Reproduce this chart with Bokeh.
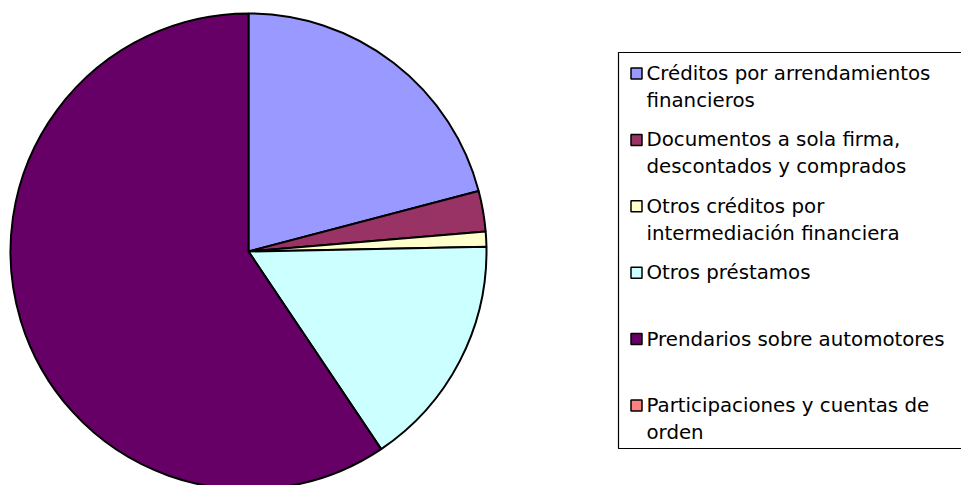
import numpy as np
from bokeh.plotting import figure
from bokeh.models import Range1d, ColumnDataSource
from bokeh.core.properties import value
from bokeh.embed import file_html
from bokeh.resources import INLINE

# ---- data ----
categories = [
    "Créditos por arrendamientos financieros",
    "Documentos a sola firma, descontados y comprados",
    "Otros créditos por intermediación financiera",
    "Otros préstamos",
    "Prendarios sobre automotores",
    "Participaciones y cuentas de orden",
]
legend_lines = [
    ["Créditos por arrendamientos", "financieros"],
    ["Documentos a sola firma,", "descontados y comprados"],
    ["Otros créditos por", "intermediación financiera"],
    ["Otros préstamos"],
    ["Prendarios sobre automotores"],
    ["Participaciones y cuentas de", "orden"],
]
shares = [20.9, 2.75, 1.03, 15.9, 59.4, 0.0]
colors = ["#9999FF", "#993366", "#FFFFCC", "#CCFFFF", "#660066", "#FF8080"]

# ---- layout ----
W, H = 961, 485
FONT = "DejaVu Sans"

def py(page_y):
    return H - page_y

def px(page_x):
    return page_x

p = figure(width=W, height=H, output_backend="svg", toolbar_location=None,
           x_range=Range1d(0, W), y_range=Range1d(0, H), min_border=0,
           tools="")
p.axis.visible = False
p.grid.visible = False
p.outline_line_color = None
p.background_fill_color = "white"
p.border_fill_color = "white"

# ---- pie ----
vals = np.array(shares, dtype=float)
frac = vals / vals.sum()
cum = np.cumsum(frac)
prev = np.concatenate([[0.0], cum[:-1]])
start = np.pi / 2 - prev * 2 * np.pi
end = np.pi / 2 - cum * 2 * np.pi
mask = vals > 0
src = ColumnDataSource(dict(
    start=start[mask], end=end[mask],
    color=[c for c, m in zip(colors, mask) if m],
))
cx, cy, r = px(248), py(251), 238
p.wedge(x=cx, y=cy, radius=r, start_angle="start", end_angle="end",
        direction="clock", fill_color="color", line_color="black",
        line_width=2, source=src)

# ---- legend ----
box_left, box_top, box_bottom = px(618), py(52), py(448)
p.quad(left=box_left, right=W + 20, top=box_top, bottom=box_bottom,
       fill_color="white", line_color="black", line_width=1.2)

first_y = 73.0
step = 66.4
line_gap = 27.0
sq_x, sq_y, txt_x, txt_y, txt = [], [], [], [], []
for i, lines in enumerate(legend_lines):
    y0 = first_y + i * step
    sq_x.append(px(636))
    sq_y.append(py(y0))
    for j, ln in enumerate(lines):
        txt_x.append(px(646))
        txt_y.append(py(y0 + j * line_gap))
        txt.append(ln)

p.scatter(x=sq_x, y=sq_y, marker="square", size=11, fill_color=colors,
          line_color="black", line_width=1.5)
p.text(x=txt_x, y=txt_y, text=txt, text_font=value(FONT),
       text_font_size="19.8px", text_baseline="middle", text_align="left",
       text_color="black")

open("out.html", "w").write(file_html(p, INLINE))
